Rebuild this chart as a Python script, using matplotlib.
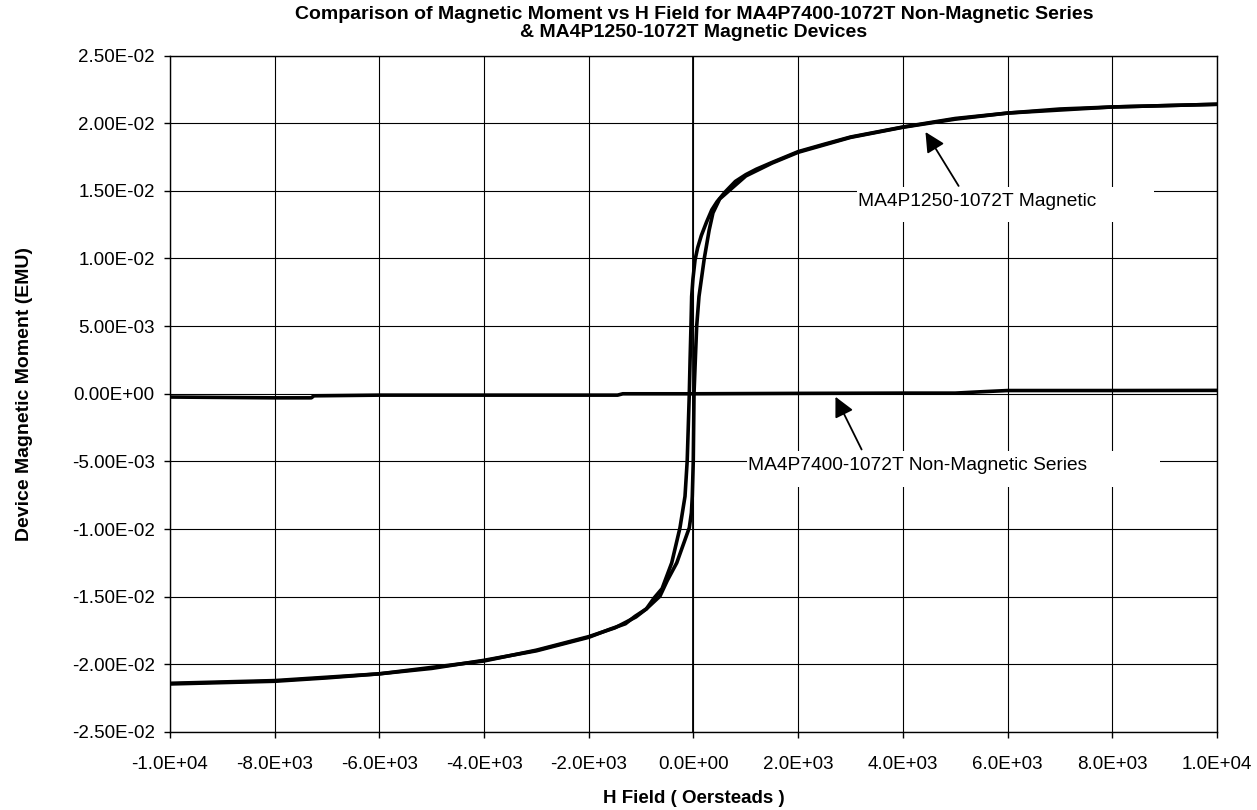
import matplotlib.pyplot as plt
from matplotlib.patches import Rectangle
from matplotlib.ticker import FuncFormatter

# H field (Oe) and moment (EMU), magnetic device, branch coming down from +H
h_down = [10000, 9000, 8000, 7000, 6000, 5000, 4000, 3000, 2500, 2000, 1500, 1200,
          1000, 800, 600, 450, 350, 250, 150, 80, 30, -10, -35, -48, -65, -80,
          -100, -120, -162, -258, -416, -600, -754, -900, -1117, -1300, -1595,
          -2000, -2500, -3000, -4000, -5000, -6000, -7000, -8000, -9000, -10000]
m_down = [0.02140, 0.02130, 0.02120, 0.02105, 0.02075, 0.02035, 0.01972, 0.01898,
          0.01845, 0.01790, 0.01710, 0.01660, 0.01620, 0.01570, 0.01490, 0.01420,
          0.01360, 0.01270, 0.01170, 0.01080, 0.00990, 0.00850, 0.00720, 0.00500,
          0.00250, 0.00000, -0.00250, -0.00495, -0.00758, -0.00990, -0.01250,
          -0.01440, -0.01510, -0.01590, -0.01645, -0.01700, -0.01740, -0.01800,
          -0.01850, -0.01900, -0.01970, -0.02030, -0.02070, -0.02100, -0.02125,
          -0.02135, -0.02145]

# branch going back up from -H
h_up = [-10000, -8000, -6000, -4000, -3000, -2000, -1500, -1100, -900, -640, -500,
        -320, -200, -80, -40, -23, -4, 10, 40, 61, 105, 206, 300, 372, 500, 697,
        1000, 1500, 2000, 3000, 4000, 5000, 6000, 8000, 10000]
m_up = [-0.02140, -0.02120, -0.02070, -0.01975, -0.01895, -0.01795, -0.01730,
        -0.01650, -0.01590, -0.01496, -0.01380, -0.01250, -0.01120, -0.00990,
        -0.00880, -0.00758, -0.00495, 0.00000, 0.00300, 0.00500, 0.00719, 0.01000,
        0.01211, 0.01337, 0.01440, 0.01507, 0.01610, 0.01705, 0.01785, 0.01895,
        0.01970, 0.02030, 0.02075, 0.02120, 0.02140]

# non-magnetic series
h_nm = [-10000, -8000, -7300, -7250, -6000, -4000, -2000, -1450, -1350, 0, 2000,
        4000, 5000, 5500, 6000, 8000, 10000]
m_nm = [-2.4e-4, -3.0e-4, -3.0e-4, -1.5e-4, -1.0e-4, -1.0e-4, -1.0e-4, -1.0e-4,
        0.0, 0.0, 3e-5, 5e-5, 5e-5, 1.5e-4, 2.4e-4, 2.4e-4, 2.5e-4]

x_ticks = [-10000, -8000, -6000, -4000, -2000, 0, 2000, 4000, 6000, 8000, 10000]
y_ticks = [-0.025, -0.02, -0.015, -0.01, -0.005, 0, 0.005, 0.01, 0.015, 0.02, 0.025]

plt.rcParams["font.family"] = ["Liberation Sans", "DejaVu Sans"]

fig = plt.figure(figsize=(12.57, 8.10), dpi=100)
ax = fig.add_axes([0.1352, 0.0963, 0.833, 0.8351])

ax.plot(h_nm, m_nm, color="black", lw=2.6, solid_capstyle="butt")
ax.plot(h_down, m_down, color="black", lw=2.6)
ax.plot(h_up, m_up, color="black", lw=2.6)

ax.set_xlim(-10000, 10000)
ax.set_ylim(-0.025, 0.025)
ax.set_xticks(x_ticks)
ax.set_yticks(y_ticks)
ax.xaxis.set_major_formatter(FuncFormatter(lambda v, p: "%.1E" % v))
ax.yaxis.set_major_formatter(FuncFormatter(lambda v, p: "%.2E" % v))
ax.tick_params(labelsize=13.5, length=4.5, width=1, direction="out")
ax.tick_params(axis="x", pad=13)
ax.tick_params(axis="y", pad=6.5)
ax.grid(True, color="black", lw=0.8)
ax.axvline(0, color="black", lw=1.3)
for s in ax.spines.values():
    s.set_linewidth(1)
ax.set_axisbelow(True)

ax.set_xlabel("H Field ( Oersteads )", fontweight="bold", fontsize=13.5, labelpad=12)
ax.set_ylabel("Device Magnetic Moment (EMU)", fontweight="bold", fontsize=14, labelpad=28)
fig.text(0.552, 0.993, "Comparison of Magnetic Moment vs H Field for MA4P7400-1072T Non-Magnetic Series\n"
         "& MA4P1250-1072T Magnetic Devices", fontweight="bold",
         fontsize=14, ha="center", va="top", linespacing=1.1)

# white label boxes (wider than the text, like the Excel text boxes)
ax.add_patch(Rectangle((3123, 0.0127), 5673, 0.00259, facecolor="white", edgecolor="none", zorder=1))
ax.add_patch(Rectangle((1022, -0.00687), 7888, 0.00266, facecolor="white", edgecolor="none", zorder=1))

ax.annotate("MA4P1250-1072T Magnetic", xy=(4431, 0.01935), xytext=(3150, 0.01418),
            fontsize=13.8, va="center", ha="left",
            arrowprops=dict(arrowstyle="-|>", color="black", lw=1.3, mutation_scale=30,
                            shrinkA=4, shrinkB=0, relpos=(0.44, 1.0)))
ax.annotate("MA4P7400-1072T Non-Magnetic Series", xy=(2712, -0.00022), xytext=(1050, -0.00532),
            fontsize=13.8, va="center", ha="left",
            arrowprops=dict(arrowstyle="-|>", color="black", lw=1.3, mutation_scale=30,
                            shrinkA=4, shrinkB=0, relpos=(0.345, 1.0)))

plt.savefig("out.png", dpi=100)
